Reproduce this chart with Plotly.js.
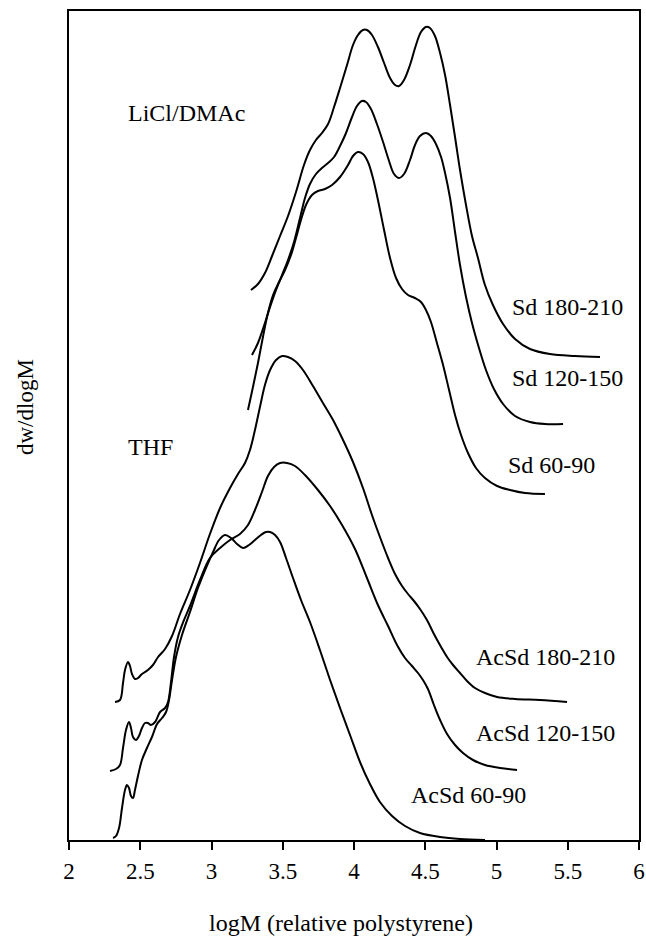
<!DOCTYPE html>
<html>
<head>
<meta charset="utf-8">
<script src="https://cdn.plot.ly/plotly-3.0.1.min.js"></script>
<style>html,body{margin:0;padding:0;background:#fff;}#chart{width:646px;height:939px;}</style>
</head>
<body>
<div id="chart"></div>
<script>
// x: logM (relative polystyrene); y: dw/dlogM (arbitrary, offset units)
const sd180_x = [3.277,3.326,3.375,3.425,3.481,3.537,3.593,3.649,3.691,3.733,3.775,3.818,3.860,3.902,3.951,3.993,4.028,4.063,4.091,4.126,4.168,4.211,4.253,4.288,4.316,4.351,4.393,4.435,4.470,4.505,4.533,4.568,4.604,4.639,4.674,4.709,4.744,4.786,4.828,4.870,4.919,4.975,5.046,5.130,5.235,5.375,5.551,5.726];
const sd180_y = [550,556,567,584,604,624,648,675,690,700,707,716,733,752,775,795,805,810,810,805,793,777,762,755,754,760,775,795,808,813,812,804,787,765,735,703,670,635,604,582,555,535,516,501,491,486,484,483];

const sd120_x = [3.284,3.326,3.368,3.411,3.453,3.495,3.537,3.579,3.621,3.656,3.691,3.733,3.775,3.818,3.860,3.902,3.944,3.986,4.021,4.056,4.084,4.119,4.161,4.204,4.246,4.281,4.316,4.351,4.393,4.428,4.463,4.505,4.540,4.575,4.611,4.639,4.674,4.709,4.744,4.786,4.828,4.877,4.926,4.982,5.046,5.130,5.235,5.340,5.467];
const sd120_y = [485,497,514,533,550,565,580,598,622,642,656,666,672,677,683,694,707,723,734,739,738,731,716,698,679,666,662,666,680,695,704,707,704,696,683,667,642,608,575,543,517,492,470,451,436,424,418,416,416];

const sd60_x = [3.256,3.291,3.326,3.361,3.396,3.432,3.474,3.516,3.558,3.593,3.628,3.663,3.705,3.747,3.796,3.846,3.902,3.958,3.993,4.028,4.063,4.098,4.133,4.168,4.211,4.253,4.295,4.337,4.379,4.428,4.470,4.505,4.540,4.582,4.625,4.667,4.709,4.751,4.800,4.856,4.919,5.004,5.095,5.200,5.340];
const sd60_y = [430,453,477,503,527,545,558,570,585,602,620,635,645,649,651,655,663,675,684,688,686,678,662,640,610,582,562,551,545,542,538,530,518,497,475,450,425,405,387,372,362,354,350,347,346];

const ac180_x = [2.323,2.358,2.379,2.393,2.414,2.428,2.442,2.463,2.484,2.512,2.554,2.589,2.625,2.674,2.723,2.779,2.849,2.919,2.989,3.060,3.130,3.186,3.235,3.270,3.305,3.340,3.375,3.411,3.453,3.495,3.537,3.586,3.642,3.712,3.782,3.853,3.923,3.993,4.063,4.126,4.182,4.239,4.288,4.337,4.379,4.421,4.463,4.512,4.561,4.611,4.653,4.695,4.744,4.793,4.849,4.919,5.004,5.130,5.305,5.495];
const ac180_y = [138,140,157,170,178,174,166,161,162,166,170,175,183,191,204,226,250,277,306,332,352,366,377,390,410,433,455,470,480,484,483,479,470,454,437,420,400,378,352,325,303,282,266,254,246,239,231,220,206,193,183,175,167,159,152,147,143,141,140,138];

const ac120_x = [2.288,2.330,2.358,2.379,2.400,2.421,2.435,2.449,2.470,2.491,2.512,2.533,2.554,2.575,2.604,2.639,2.674,2.695,2.716,2.737,2.765,2.807,2.849,2.919,2.989,3.060,3.130,3.200,3.256,3.305,3.354,3.396,3.439,3.481,3.530,3.586,3.656,3.747,3.832,3.916,4.007,4.091,4.168,4.239,4.302,4.358,4.407,4.449,4.484,4.519,4.561,4.604,4.653,4.709,4.765,4.835,4.919,5.025,5.144];
const ac120_y = [69,71,75,92,110,118,112,103,100,104,112,117,117,115,118,128,132,138,158,183,203,220,234,260,282,292,300,306,315,330,348,364,373,377,377,374,365,350,334,315,291,262,235,214,195,182,174,167,160,151,135,120,106,95,87,80,75,72,70];

const ac60_x = [2.309,2.330,2.351,2.372,2.393,2.407,2.421,2.435,2.449,2.463,2.484,2.512,2.547,2.582,2.618,2.653,2.681,2.702,2.723,2.751,2.793,2.849,2.905,2.961,3.011,3.053,3.095,3.137,3.179,3.221,3.263,3.305,3.347,3.382,3.411,3.446,3.481,3.523,3.572,3.628,3.691,3.761,3.832,3.902,3.972,4.042,4.112,4.182,4.267,4.358,4.463,4.604,4.744,4.919];
const ac60_y = [2,4,12,32,50,55,52,44,42,50,64,80,92,103,116,122,128,140,160,183,205,228,252,272,288,300,305,302,296,292,295,300,305,308,308,305,298,282,262,240,218,190,160,132,105,78,56,38,24,14,7,3,1,0];

const xTicks = [2,2.5,3,3.5,4,4.5,5,5.5,6];
const xTickText = ['2','2.5','3','3.5','4','4.5','5','5.5','6'];

const labels = ['LiCl/DMAc','THF','Sd 180-210','Sd 120-150','Sd 60-90','AcSd 180-210','AcSd 120-150','AcSd 60-90'];
const labelX = [2.400,2.400,5.093,5.093,5.065,4.840,4.840,4.384];
const labelY = [727,393,533,462,375,183,107,45];

const xTitle = 'logM (relative polystyrene)';
const yTitle = 'dw/dlogM';

const serif = '"Liberation Serif", "Times New Roman", Times, serif';
function tr(x,y,name){
  return {x:x,y:y,name:name,type:'scatter',mode:'lines',
    line:{color:'#000',width:2,shape:'spline',smoothing:1},hoverinfo:'skip',showlegend:false};
}
const data = [
  tr(sd180_x,sd180_y,'Sd 180-210'),
  tr(sd120_x,sd120_y,'Sd 120-150'),
  tr(sd60_x,sd60_y,'Sd 60-90'),
  tr(ac180_x,ac180_y,'AcSd 180-210'),
  tr(ac120_x,ac120_y,'AcSd 120-150'),
  tr(ac60_x,ac60_y,'AcSd 60-90')
];
const annotations = labels.map((t,i)=>({
  x:labelX[i], y:labelY[i], xref:'x', yref:'y', text:t, showarrow:false,
  xanchor:'left', yanchor:'middle', font:{family:serif,size:24,color:'#000'}
}));
annotations.push({x:0.477,y:-0.1005,xref:'paper',yref:'paper',text:xTitle,showarrow:false,
  xanchor:'center',yanchor:'middle',font:{family:serif,size:24,color:'#000'}});
annotations.push({x:-0.0772,y:0.5223,xref:'paper',yref:'paper',text:yTitle,showarrow:false,textangle:-90,
  xanchor:'center',yanchor:'middle',font:{family:serif,size:23,color:'#000'}});
const layout = {
  width:646, height:939,
  margin:{l:69,r:7,t:11,b:99},
  paper_bgcolor:'#fff', plot_bgcolor:'#fff',
  showlegend:false,
  font:{family:serif,color:'#000'},
  xaxis:{range:[2,6],tickvals:xTicks,ticktext:xTickText,ticks:'outside',ticklen:8,tickwidth:2,tickcolor:'#000',
    showline:true,linewidth:2,linecolor:'#000',mirror:true,showgrid:false,zeroline:false,
    tickfont:{family:serif,size:23,color:'#000'},ticklabelstandoff:1},
  yaxis:{range:[0,829],showticklabels:false,ticks:'',showline:true,linewidth:2,linecolor:'#000',mirror:true,
    showgrid:false,zeroline:false},
  annotations:annotations
};
Plotly.newPlot('chart',data,layout,{staticPlot:true,displayModeBar:false});
</script>
</body>
</html>
